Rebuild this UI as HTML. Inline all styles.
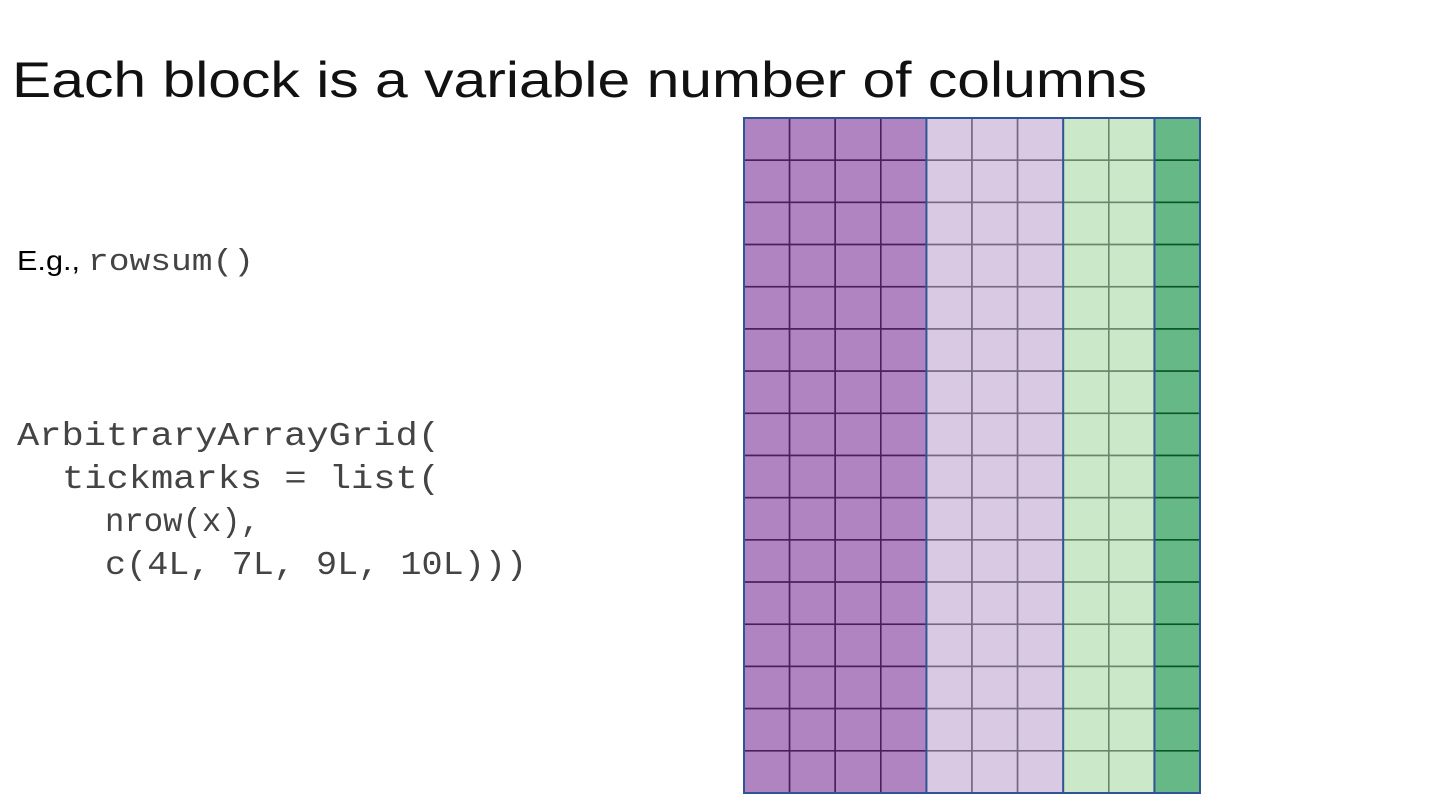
<!DOCTYPE html>
<html><head><meta charset="utf-8"><style>
html,body{margin:0;padding:0;background:#fff;width:1440px;height:810px;overflow:hidden}
svg{display:block}
</style></head><body>
<svg width="1440" height="810">
<text x="12" y="97" font-family="Liberation Sans, sans-serif" font-size="50" fill="#111" textLength="1135" lengthAdjust="spacingAndGlyphs">Each block is a variable number of columns</text>
<text x="17" y="270" font-family="Liberation Sans, sans-serif" font-size="28" fill="#000" textLength="63" lengthAdjust="spacingAndGlyphs">E.g.,</text>
<text x="88" y="270" font-family="Liberation Mono, monospace" font-size="31" fill="#444" textLength="166" lengthAdjust="spacingAndGlyphs">rowsum()</text>
<g font-family="Liberation Mono, monospace" font-size="33" fill="#444">
<text x="17" y="445" textLength="423" lengthAdjust="spacingAndGlyphs">ArbitraryArrayGrid(</text>
<text x="62" y="488" textLength="378" lengthAdjust="spacingAndGlyphs">tickmarks = list(</text>
<text x="105" y="531" textLength="155" lengthAdjust="spacingAndGlyphs">nrow(x),</text>
<text x="105" y="574" textLength="422" lengthAdjust="spacingAndGlyphs">c(4L, 7L, 9L, 10L)))</text>
</g>
<g id="grid"></g>
</svg>
<script>
const nrow = 16;
const colTicks = [4, 7, 9, 10];
const blockFills = ["#b084c0", "#d9c9e2", "#cbe8c8", "#66b886"];
const blockLines = ["#4a1f5c", "#756a80", "#6a876a", "#0b5526"];

const X0 = 744, X1 = 1200, Y0 = 118, Y1 = 793;
const ncol = colTicks[colTicks.length - 1];
const cw = (X1 - X0) / ncol, rh = (Y1 - Y0) / nrow;
const xs = c => X0 + c * cw, ys = r => Y0 + r * rh;
const g = document.getElementById('grid');
const NS = 'http://www.w3.org/2000/svg';
let start = 0;
colTicks.forEach((end, b) => {
  const bg = document.createElementNS(NS, 'g');
  
  
  for (let c = start; c < end; c++) {
    for (let r = 0; r < nrow; r++) {
      const rect = document.createElementNS(NS, 'rect');
      
      
      rect.setAttribute('x', xs(c)); rect.setAttribute('y', ys(r));
      rect.setAttribute('width', cw); rect.setAttribute('height', rh);
      rect.setAttribute('fill', blockFills[b]);
      rect.setAttribute('stroke', blockLines[b]); rect.setAttribute('stroke-width', 1.6);
      bg.appendChild(rect);
    }
  }
  g.appendChild(bg);
  start = end;
});
[0, ...colTicks].forEach(t => {
  const l = document.createElementNS(NS, 'line');
  
  
  l.setAttribute('x1', xs(t)); l.setAttribute('x2', xs(t));
  l.setAttribute('y1', Y0); l.setAttribute('y2', Y1);
  l.setAttribute('stroke', '#2f5597'); l.setAttribute('stroke-width', 2);
  g.appendChild(l);
});
const border = document.createElementNS(NS, 'rect');


border.setAttribute('x', X0); border.setAttribute('y', Y0);
border.setAttribute('width', X1 - X0); border.setAttribute('height', Y1 - Y0);
border.setAttribute('fill', 'none'); border.setAttribute('stroke', '#2f5597'); border.setAttribute('stroke-width', 2);
g.appendChild(border);
</script>
</body></html>
